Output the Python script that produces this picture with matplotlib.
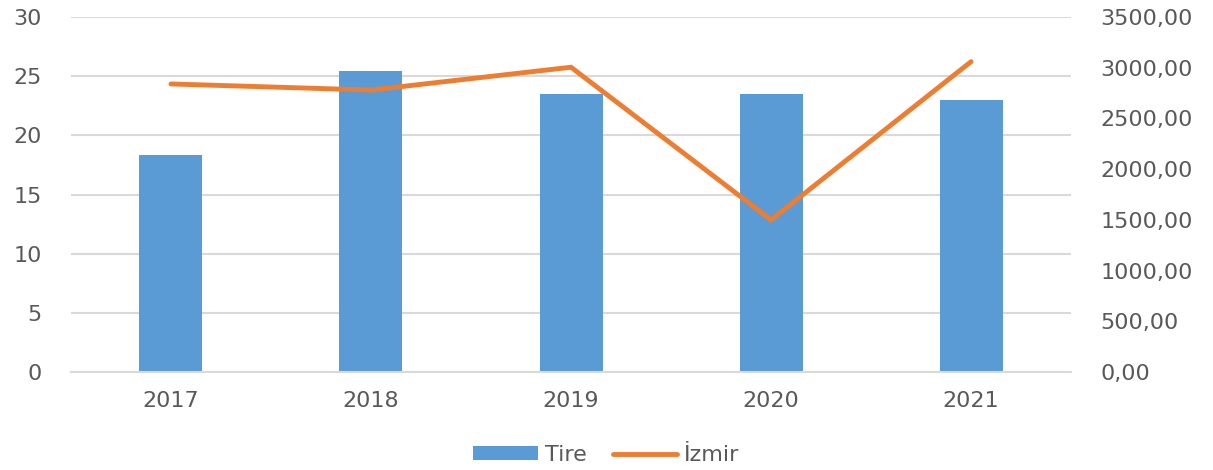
import matplotlib.pyplot as plt
from matplotlib.ticker import FuncFormatter

years = ["2017", "2018", "2019", "2020", "2021"]
tire = [18.35, 25.45, 23.5, 23.5, 23.0]
izmir = [2840, 2780, 3005, 1500, 3060]

left_ticks = [0, 5, 10, 15, 20, 25, 30]
right_ticks = [0, 500, 1000, 1500, 2000, 2500, 3000, 3500]

text_color = "#595959"
plt.rcParams['font.family'] = ['DejaVu Sans']

fig = plt.figure(figsize=(12.13, 4.70), dpi=100)
ax = fig.add_axes([0.0585, 0.2085, 0.8245, 0.7553])
ax2 = ax.twinx()

x = list(range(len(years)))
bars = ax.bar(x, tire, width=0.315, color="#5B9BD5", label="Tire", zorder=2)
line, = ax2.plot(x, izmir, color="#ED7D31", linewidth=3.5, solid_capstyle="round",
                 solid_joinstyle="miter", label="İzmir", zorder=3)

ax.set_xlim(-0.5, 4.5)
ax.set_ylim(0, 30)
ax.set_yticks(left_ticks)
ax2.set_ylim(0, 3500)
ax2.set_yticks(right_ticks)
ax2.yaxis.set_major_formatter(FuncFormatter(lambda v, p: f"{v:.2f}".replace(".", ",")))

ax.set_xticks(x)
ax.set_xticklabels(years)
ax.yaxis.grid(True, color="#D9D9D9", linewidth=1.5, zorder=0)
ax.set_axisbelow(True)

for a in (ax, ax2):
    for s in a.spines.values():
        s.set_visible(False)
    a.tick_params(length=0, labelsize=16, colors=text_color)
ax.spines['bottom'].set_visible(True)
ax.spines['bottom'].set_color("#D9D9D9")
ax.spines['bottom'].set_linewidth(1.5)
ax.tick_params(axis='x', pad=14)
ax.tick_params(axis='y', pad=21)
ax2.tick_params(axis='y', pad=21)

fig.legend([bars, line], ["Tire", "İzmir"], loc="center", bbox_to_anchor=(0.5, 0.032),
           ncol=2, frameon=False, fontsize=16, labelcolor=text_color,
           handlelength=2.9, handleheight=0.6, handletextpad=0.3, columnspacing=1.2)

fig.savefig("out.png", dpi=100)
